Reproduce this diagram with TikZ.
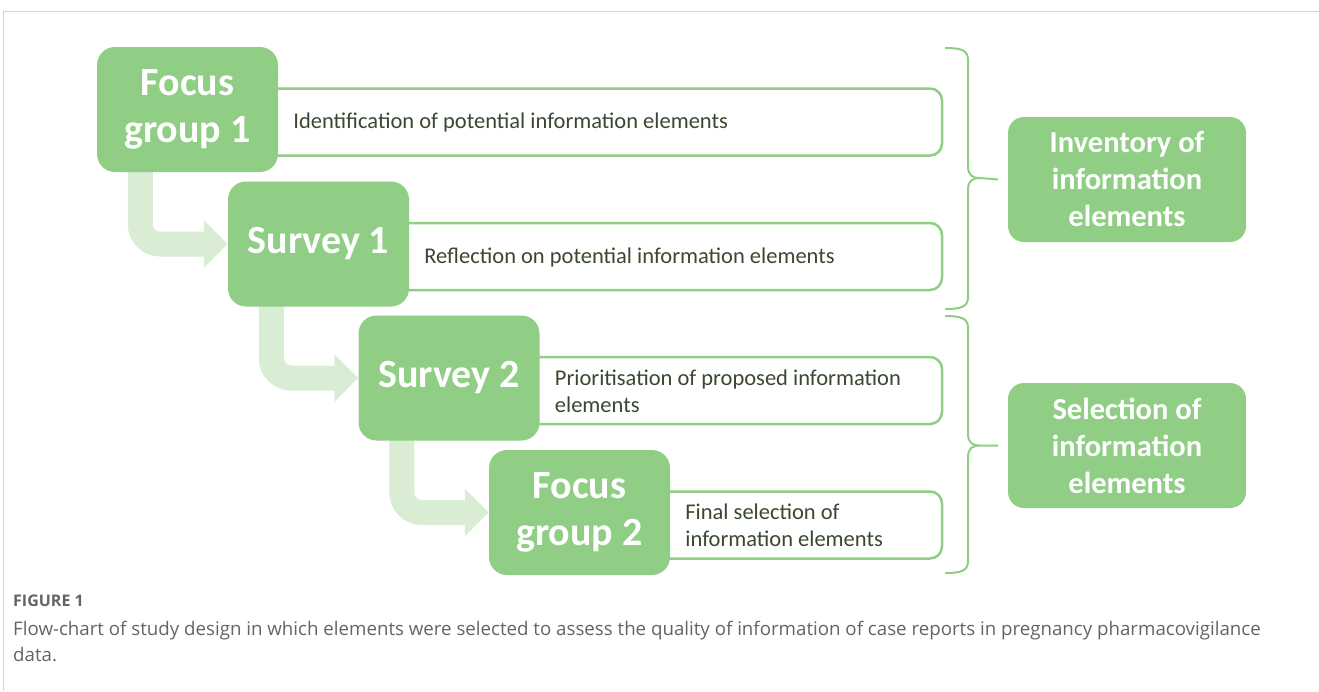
\documentclass[tikz,border=0pt]{standalone}
\usepackage{fontspec}
\setmainfont{Carlito}
\newfontfamily\capfont{Open Sans}
\usetikzlibrary{arrows.meta, positioning, calc, backgrounds}
\definecolor{boxgreen}{RGB}{144, 206, 134}
\definecolor{palegreen}{RGB}{216, 237, 211}
\definecolor{textgreen}{RGB}{58, 72, 48}
\definecolor{framegray}{RGB}{212, 212, 212}
\definecolor{capgray}{RGB}{100, 100, 100}

\tikzset{
  stepbox/.style={fill=boxgreen, text=white, rounded corners=18pt, minimum width=181pt, minimum height=125pt, align=center, inner sep=0pt, font=\fontsize{40}{47}\selectfont\bfseries},
  resultbox/.style={fill=boxgreen, text=white, rounded corners=16pt, minimum width=238pt, minimum height=125pt, align=center, inner sep=0pt, font=\fontsize{30.5}{37}\selectfont\bfseries},
  infoline/.style={draw=boxgreen, line width=2.5pt, rounded corners=12pt},
  infotext/.style={text=textgreen, align=left, inner sep=0pt, font=\fontsize{22.5}{27}\selectfont},
  flowarrow/.style={draw=palegreen, line width=25pt, rounded corners=20pt, -{Triangle[length=24pt, width=46pt]}},
  bracket/.style={draw=boxgreen, line width=2pt},
}

\begin{document}
\begin{tikzpicture}[x=1pt, y=-1pt]
  \useasboundingbox (0,0) rectangle (1319,691);
  \coordinate (rim) at (942,0);

  % Frame of the figure
  \draw[framegray, line width=1.5pt] (3.5,691) -- (3.5,11.5) -- (1319,11.5);

  % Steps
  \foreach \i/\cx/\cy/\lab in {1/187.5/109.5/{Focus\\group 1}, 2/318.5/244/{Survey 1},
      3/449/378/{Survey 2}, 4/579.5/512.5/{Focus\\group 2}}
    \node[stepbox] (step\i) at (\cx,\cy) {\lab};

  % Descriptions next to the steps
  \foreach \i/\txt in {1/{Identification of potential information elements},
      2/{Reflection on potential information elements},
      3/{Prioritisation of proposed information\\elements},
      4/{Final selection of\\information elements}}
    \node[infotext, anchor=west] (info\i) at ([xshift=15pt, yshift=-13pt]step\i.east) {\txt};

  \begin{scope}[on background layer]
    \foreach \i in {1,...,4}
      \draw[infoline] ([yshift=21pt]step\i.center) rectangle ([yshift=-46pt]step\i.center -| rim);
    % Bent arrows
    \foreach \i/\j in {1/2, 2/3, 3/4}
      \draw[flowarrow] ([xshift=43.5pt, yshift=12pt]step\i.south west) |- (step\j.west);
  \end{scope}

  % Outcomes
  \node[resultbox] (inventory) at (1127,179.5) {Inventory of\\information\\elements};
  \node[resultbox] (selection) at (1127,445.5) {Selection of\\information\\elements};

  % Brackets
  \foreach \ya/\ym/\yb/\res in {48/178/309/inventory, 316/445.5/573/selection}
    \draw[bracket] (945,\ya) .. controls (961,\ya) and (968,\ya+2) .. (968,\ya+12)
      -- (968,\ym-12) .. controls (968,\ym-3) and (972,\ym) .. (980,\ym)
      -- ([xshift=-10pt]\res.west)
      (980,\ym) .. controls (972,\ym) and (968,\ym+3) .. (968,\ym+12)
      -- (968,\yb-12) .. controls (968,\yb-2) and (961,\yb) .. (945,\yb);

  % Caption
  \node[anchor=base west, inner sep=0pt, text=capgray, font=\capfont\fontsize{16}{19}\selectfont\bfseries] (figlabel) at (13,606) {FIGURE 1};
  \node[anchor=base west, inner sep=0pt, text=capgray, align=left, font=\capfont\fontsize{18.7}{26}\selectfont] (figcaption) at (13,661)
    {Flow-chart of study design in which elements were selected to assess the quality of information of case reports in pregnancy pharmacovigilance\\data.};
\end{tikzpicture}
\end{document}
